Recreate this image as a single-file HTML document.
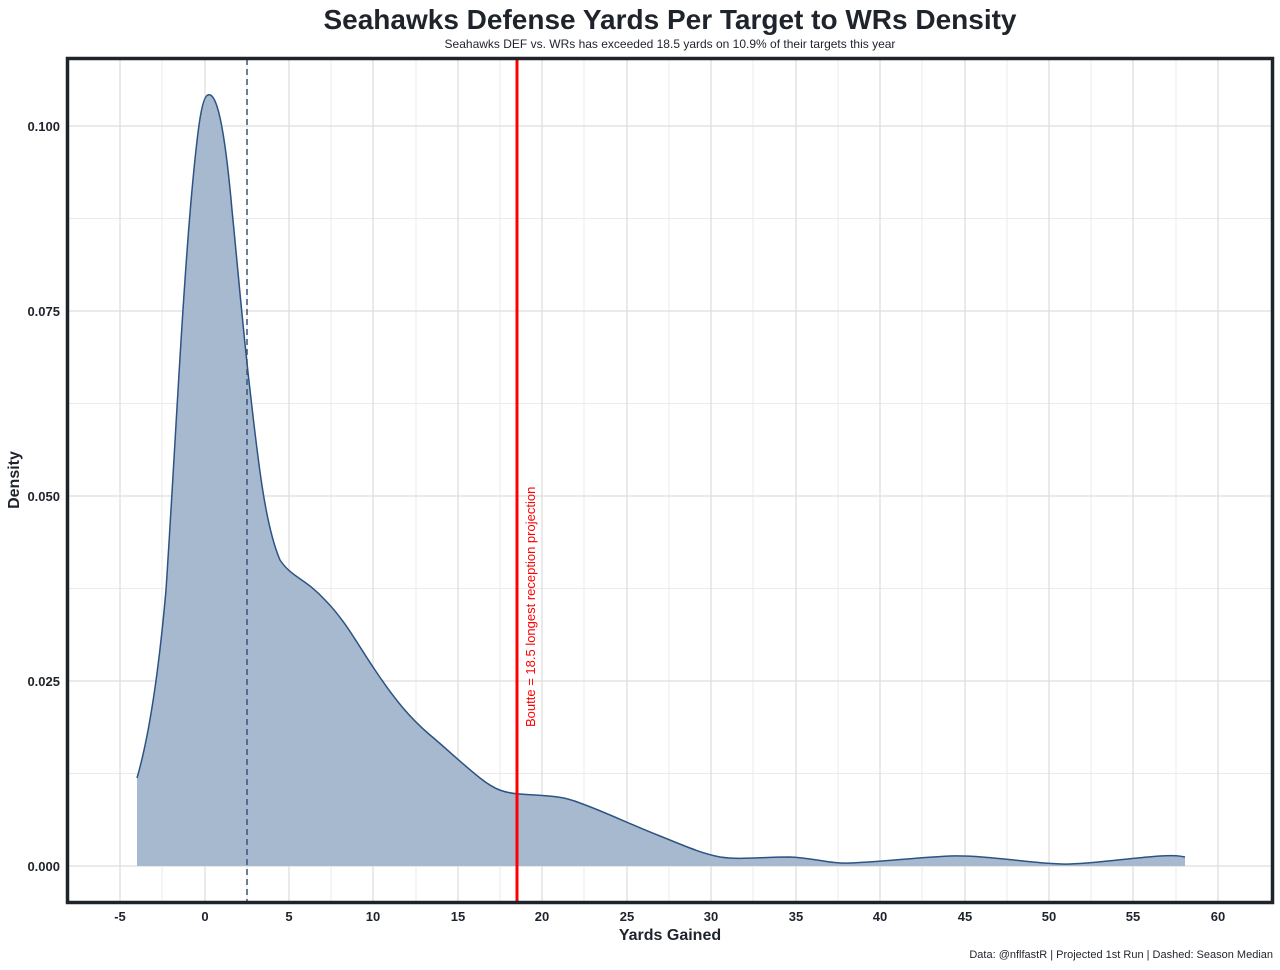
<!DOCTYPE html>
<html><head><meta charset="utf-8"><style>
body{margin:0;background:#fff;}
svg text{font-family:"Liberation Sans",Arial,sans-serif;}
</style></head><body>
<svg width="1280" height="965" viewBox="0 0 1280 965" xmlns="http://www.w3.org/2000/svg">
<rect width="1280" height="965" fill="#fff"/>
<text x="670" y="29" text-anchor="middle" font-size="28" font-weight="bold" fill="#1f232b">Seahawks Defense Yards Per Target to WRs Density</text>
<text x="670" y="48" text-anchor="middle" font-size="12" fill="#1f232b">Seahawks DEF vs. WRs has exceeded 18.5 yards on 10.9% of their targets this year</text>
<g stroke="#ebebeb" stroke-width="1">
<line x1="68" x2="1272" y1="773.5" y2="773.5"/><line x1="68" x2="1272" y1="588.5" y2="588.5"/><line x1="68" x2="1272" y1="403.5" y2="403.5"/><line x1="68" x2="1272" y1="218.5" y2="218.5"/>
<line y1="59" y2="902" x1="162" x2="162"/><line y1="59" y2="902" x1="247" x2="247"/><line y1="59" y2="902" x1="331" x2="331"/><line y1="59" y2="902" x1="416" x2="416"/><line y1="59" y2="902" x1="500" x2="500"/><line y1="59" y2="902" x1="584" x2="584"/><line y1="59" y2="902" x1="669" x2="669"/><line y1="59" y2="902" x1="753" x2="753"/><line y1="59" y2="902" x1="838" x2="838"/><line y1="59" y2="902" x1="922" x2="922"/><line y1="59" y2="902" x1="1007" x2="1007"/><line y1="59" y2="902" x1="1091" x2="1091"/><line y1="59" y2="902" x1="1176" x2="1176"/>
</g>
<g stroke="#dedede" stroke-width="1.3">
<line x1="68" x2="1272" y1="866" y2="866"/><line x1="68" x2="1272" y1="681" y2="681"/><line x1="68" x2="1272" y1="496" y2="496"/><line x1="68" x2="1272" y1="311" y2="311"/><line x1="68" x2="1272" y1="126" y2="126"/>
<line y1="59" y2="902" x1="120" x2="120"/><line y1="59" y2="902" x1="205" x2="205"/><line y1="59" y2="902" x1="289" x2="289"/><line y1="59" y2="902" x1="373" x2="373"/><line y1="59" y2="902" x1="458" x2="458"/><line y1="59" y2="902" x1="542" x2="542"/><line y1="59" y2="902" x1="627" x2="627"/><line y1="59" y2="902" x1="711" x2="711"/><line y1="59" y2="902" x1="796" x2="796"/><line y1="59" y2="902" x1="880" x2="880"/><line y1="59" y2="902" x1="965" x2="965"/><line y1="59" y2="902" x1="1049" x2="1049"/><line y1="59" y2="902" x1="1133" x2="1133"/><line y1="59" y2="902" x1="1218" x2="1218"/>
</g>
<path id="c" d="M137,778 C148,740 158,680 166,590 C174,470 182,300 192,190 C198,125 202,96 208,95 C216,92 224,120 232,210 C238,270 243,330 250,390 C258,460 265,525 280,560 C292,578 305,578 325,600 C345,620 358,645 375,670 C395,700 410,718 430,735 C448,750 460,762 480,778 C495,790 505,793 520,794 C545,796 560,795 580,803 C605,812 625,822 660,836 C685,846 700,853 720,857 C740,860 760,857 790,857 C815,858 830,864 850,863 C880,862 910,858 950,856 C990,855 1040,865 1070,864 C1100,863 1130,858 1160,856 C1175,855 1180,856 1185,857" fill="none"/>
<path d="M137,778 C148,740 158,680 166,590 C174,470 182,300 192,190 C198,125 202,96 208,95 C216,92 224,120 232,210 C238,270 243,330 250,390 C258,460 265,525 280,560 C292,578 305,578 325,600 C345,620 358,645 375,670 C395,700 410,718 430,735 C448,750 460,762 480,778 C495,790 505,793 520,794 C545,796 560,795 580,803 C605,812 625,822 660,836 C685,846 700,853 720,857 C740,860 760,857 790,857 C815,858 830,864 850,863 C880,862 910,858 950,856 C990,855 1040,865 1070,864 C1100,863 1130,858 1160,856 C1175,855 1180,856 1185,857 L1185,866 L137,866 Z" fill="#a7b9ce"/>
<use href="#c" stroke="#2c5383" stroke-width="1.5"/>
<line x1="247" x2="247" y1="59" y2="902" stroke="#39557a" stroke-width="1.5" stroke-dasharray="6,4"/>
<line x1="517" x2="517" y1="59" y2="902" stroke="#ff0000" stroke-width="3"/>
<text transform="translate(535,727) rotate(-90)" font-size="13" fill="#ff0000">Boutte = 18.5 longest reception projection</text>
<rect x="67.5" y="58.5" width="1205" height="844" fill="none" stroke="#1f232b" stroke-width="3.5"/>
<g font-size="13" font-weight="bold" fill="#1f232b" text-anchor="end">
<text x="60" y="871">0.000</text><text x="60" y="686">0.025</text><text x="60" y="501">0.050</text><text x="60" y="316">0.075</text><text x="60" y="131">0.100</text>
</g>
<g font-size="13" font-weight="bold" fill="#1f232b" text-anchor="middle">
<text x="120" y="921">-5</text><text x="205" y="921">0</text><text x="289" y="921">5</text><text x="373" y="921">10</text><text x="458" y="921">15</text><text x="542" y="921">20</text><text x="627" y="921">25</text><text x="711" y="921">30</text><text x="796" y="921">35</text><text x="880" y="921">40</text><text x="965" y="921">45</text><text x="1049" y="921">50</text><text x="1133" y="921">55</text><text x="1218" y="921">60</text>
</g>
<text x="670" y="940" text-anchor="middle" font-size="16" font-weight="bold" fill="#1f232b">Yards Gained</text>
<text transform="translate(19,480) rotate(-90)" text-anchor="middle" font-size="16" font-weight="bold" fill="#1f232b">Density</text>
<text x="1273" y="958" text-anchor="end" font-size="11" fill="#1f232b">Data: @nflfastR | Projected 1st Run | Dashed: Season Median</text>
</svg>
</body></html>
